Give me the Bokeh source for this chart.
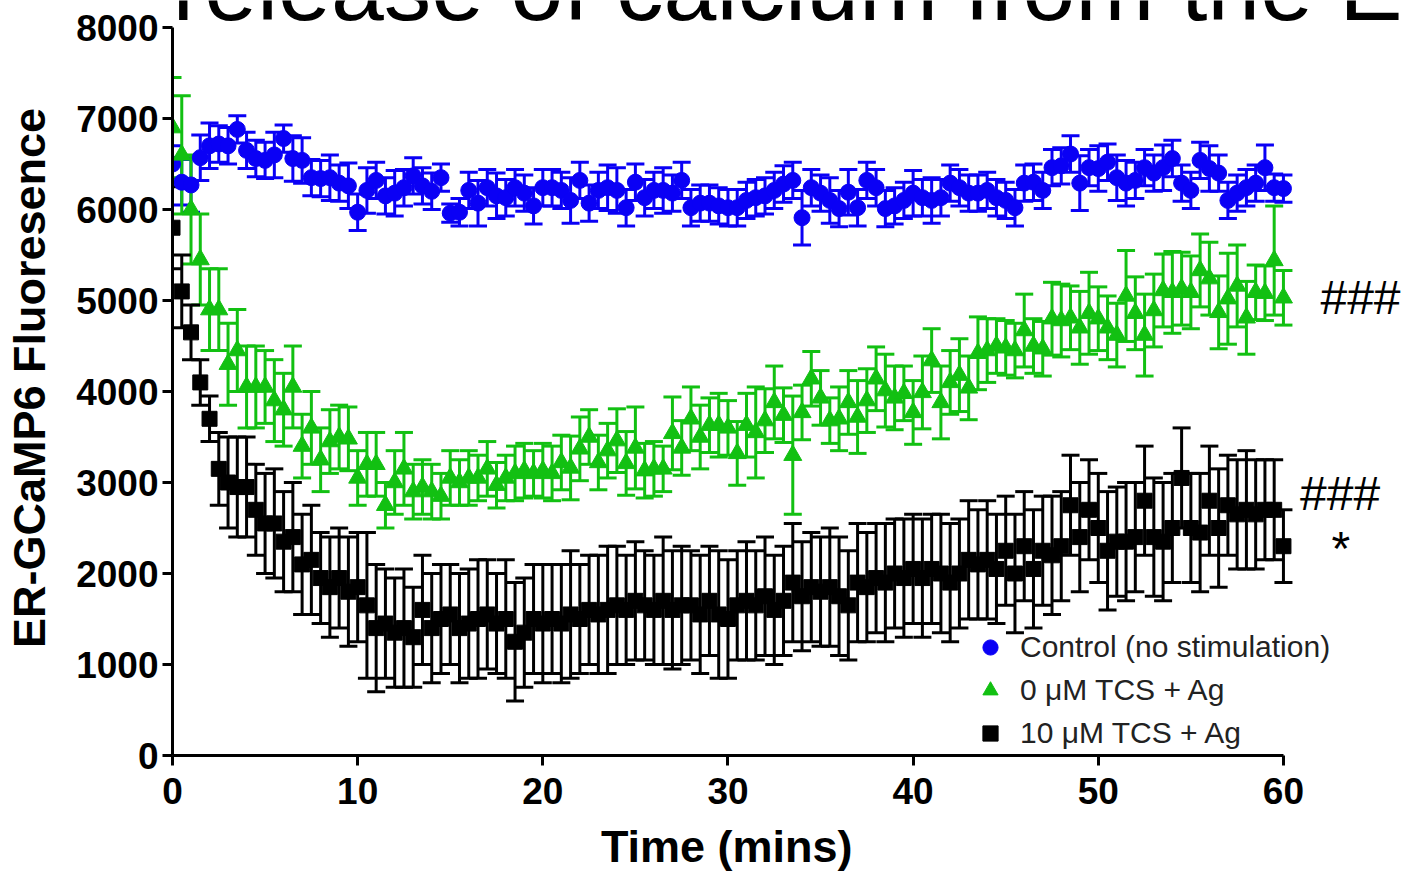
from bokeh.plotting import figure
from bokeh.models import (ColumnDataSource, Whisker, TeeHead, Label, Legend, LegendItem,
                          Range1d, FixedTicker)
from bokeh.embed import file_html
from bokeh.resources import INLINE

# ---------------- data ----------------
time_min = [
    0, 0.5, 1, 1.5, 2, 2.5, 3, 3.5, 4, 4.5,
    5, 5.5, 6, 6.5, 7, 7.5, 8, 8.5, 9, 9.5,
    10, 10.5, 11, 11.5, 12, 12.5, 13, 13.5, 14, 14.5,
    15, 15.5, 16, 16.5, 17, 17.5, 18, 18.5, 19, 19.5,
    20, 20.5, 21, 21.5, 22, 22.5, 23, 23.5, 24, 24.5,
    25, 25.5, 26, 26.5, 27, 27.5, 28, 28.5, 29, 29.5,
    30, 30.5, 31, 31.5, 32, 32.5, 33, 33.5, 34, 34.5,
    35, 35.5, 36, 36.5, 37, 37.5, 38, 38.5, 39, 39.5,
    40, 40.5, 41, 41.5, 42, 42.5, 43, 43.5, 44, 44.5,
    45, 45.5, 46, 46.5, 47, 47.5, 48, 48.5, 49, 49.5,
    50, 50.5, 51, 51.5, 52, 52.5, 53, 53.5, 54, 54.5,
    55, 55.5, 56, 56.5, 57, 57.5, 58, 58.5, 59, 59.5,
    60,
]

control_mean = [
    6500, 6300, 6270, 6570, 6700, 6720, 6700, 6880, 6650, 6560,
    6540, 6600, 6780, 6560, 6540, 6350, 6340, 6350, 6290, 6260,
    5970, 6210, 6320, 6150, 6180, 6240, 6370, 6260, 6200, 6350,
    5960, 5970, 6210, 6070, 6240, 6150, 6130, 6240, 6180, 6040,
    6240, 6240, 6210, 6100, 6320, 6070, 6210, 6240, 6210, 6020,
    6300, 6130, 6210, 6210, 6180, 6320, 6020, 6070, 6070, 6040,
    6020, 6020, 6100, 6130, 6150, 6210, 6280, 6320, 5910, 6240,
    6180, 6100, 6010, 6190, 6020, 6320, 6240, 6010, 6040, 6100,
    6180, 6130, 6100, 6130, 6290, 6240, 6180, 6180, 6210, 6130,
    6100, 6020, 6290, 6300, 6210, 6460, 6480, 6610, 6290, 6460,
    6450, 6520, 6350, 6290, 6320, 6460, 6400, 6460, 6560, 6290,
    6210, 6540, 6450, 6400, 6100, 6180, 6240, 6290, 6460, 6240,
    6230,
]
control_sem = [
    200, 250, 300, 250, 250, 200, 200, 150, 200, 200,
    200, 250, 150, 250, 250, 200, 200, 250, 200, 250,
    200, 250, 200, 200, 250, 200, 200, 200, 200, 150,
    100, 150, 200, 250, 200, 250, 200, 200, 200, 200,
    200, 200, 200, 250, 200, 200, 200, 250, 250, 200,
    200, 200, 200, 250, 200, 200, 200, 200, 200, 200,
    200, 200, 200, 200, 200, 200, 200, 200, 300, 200,
    200, 250, 200, 250, 200, 200, 200, 200, 200, 200,
    250, 200, 250, 200, 200, 200, 200, 200, 200, 200,
    200, 200, 200, 200, 200, 200, 200, 200, 300, 200,
    250, 200, 250, 250, 200, 200, 200, 250, 200, 200,
    200, 200, 250, 200, 200, 200, 200, 200, 250, 150,
    150,
]

tcs0_mean = [
    6900, 6600, 6000, 5450, 4900, 4900, 4300, 4450, 4050, 4050,
    4050, 3900, 3800, 4050, 3400, 3600, 3250, 3450, 3500, 3480,
    3050, 3200, 3200, 2750, 3000, 3150, 2900, 2950, 2900, 2850,
    3050, 3000, 3050, 3050, 3150, 2970, 3050, 3100, 3130, 3100,
    3130, 3100, 3220, 3160, 3370, 3500, 3220, 3350, 3460, 3210,
    3380, 3130, 3150, 3150, 3540, 3380, 3700, 3500, 3630, 3630,
    3600, 3320, 3630, 3550, 3680, 3880, 3740, 3300, 3770, 4140,
    3930, 3680, 3700, 3880, 3720, 3900, 4140, 4010, 3930, 3980,
    3770, 3990, 4340, 3880, 4100, 4180, 4040, 4420, 4450, 4500,
    4480, 4450, 4670, 4500, 4470, 4800, 4780, 4810, 4700, 4860,
    4800, 4700, 4620, 5050, 4860, 4620, 4890, 5110, 5090, 5130,
    5090, 5330, 5240, 4870, 5020, 5160, 4810, 5090, 5080, 5440,
    5030,
]
tcs0_sem = [
    550, 650, 600, 500, 450, 450, 450, 450, 450, 450,
    400, 450, 400, 450, 350, 400, 350, 350, 350, 350,
    300, 350, 350, 250, 350, 400, 300, 300, 300, 250,
    300, 250, 300, 250, 300, 250, 250, 300, 300, 250,
    300, 300, 300, 350, 350, 300, 300, 300, 350, 350,
    450, 300, 300, 250, 400, 300, 350, 350, 300, 350,
    300, 350, 350, 500, 350, 400, 300, 650, 300, 300,
    300, 250, 350, 350, 400, 350, 350, 400, 350, 300,
    350, 400, 350, 400, 350, 400, 350, 400, 350, 300,
    300, 300, 400, 300, 300, 400, 400, 350, 400, 450,
    350, 350, 350, 500, 400, 450, 400, 400, 450, 400,
    400, 400, 400, 400, 500, 450, 400, 300, 300, 600,
    300,
]

tcs10_mean = [
    5800, 5100, 4650, 4100, 3700, 3150, 3000, 2950, 2950, 2700,
    2550, 2550, 2350, 2400, 2100, 2150, 1950, 1850, 1950, 1800,
    1850, 1650, 1400, 1450, 1350, 1400, 1300, 1600, 1400, 1500,
    1550, 1400, 1450, 1500, 1550, 1450, 1500, 1250, 1350, 1500,
    1450, 1500, 1450, 1550, 1500, 1600, 1550, 1600, 1650, 1600,
    1700, 1650, 1600, 1700, 1600, 1650, 1650, 1550, 1700, 1550,
    1500, 1650, 1700, 1650, 1750, 1600, 1700, 1900, 1750, 1850,
    1800, 1850, 1750, 1650, 1900, 1850, 1950, 1900, 2000, 1950,
    2050, 1950, 2050, 2000, 1900, 2000, 2150, 2100, 2150, 2050,
    2250, 2000, 2300, 2050, 2250, 2200, 2300, 2750, 2400, 2700,
    2500, 2250, 2350, 2350, 2400, 2800, 2400, 2350, 2500, 3050,
    2500, 2450, 2800, 2500, 2750, 2650, 2700, 2650, 2700, 2700,
    2300,
]
tcs10_sem = [
    450, 400, 300, 250, 250, 400, 500, 550, 550, 500,
    550, 600, 550, 600, 550, 600, 500, 550, 550, 600,
    600, 800, 700, 600, 600, 650, 550, 600, 600, 600,
    550, 600, 600, 650, 600, 550, 650, 650, 600, 600,
    650, 600, 650, 700, 600, 600, 650, 700, 650, 600,
    650, 600, 600, 700, 650, 650, 600, 650, 600, 700,
    650, 600, 650, 600, 650, 600, 600, 650, 600, 600,
    600, 650, 650, 600, 650, 600, 600, 650, 600, 650,
    600, 650, 600, 650, 650, 600, 650, 600, 650, 600,
    600, 650, 600, 650, 600, 650, 600, 550, 600, 550,
    600, 650, 600, 650, 600, 600, 650, 650, 600, 550,
    600, 650, 600, 650, 550, 600, 650, 600, 550, 550,
    400,
]

series_names = ["Control (no stimulation)", "0 \u03bcM TCS + Ag", "10 \u03bcM TCS + Ag"]
x_ticks = [0, 10, 20, 30, 40, 50, 60]
y_ticks = [0, 1000, 2000, 3000, 4000, 5000, 6000, 7000, 8000]
title_text = "release of calcium from the E"
x_title = "Time (mins)"
y_title = "ER-GCaMP6 Fluoresence"
sig_top = "###"
sig_mid = "###"
sig_star = "*"

# ---------------- figure ----------------
FONT = "Liberation Sans"
BLUE = "#0a00f5"
GREEN = "#12c012"
BLACK = "#000000"

p = figure(width=1402, height=875, output_backend="svg", toolbar_location=None,
           x_range=Range1d(0, 66.43), y_range=Range1d(0, 8297),
           min_border_left=172, min_border_right=0, min_border_top=0,
           min_border_bottom=120)
p.outline_line_color = None
p.xgrid.visible = False
p.ygrid.visible = False
p.background_fill_color = "white"
p.border_fill_color = "white"

for ax in (p.xaxis[0], p.yaxis[0]):
    ax.axis_line_width = 3
    ax.major_tick_line_width = 3
    ax.major_tick_out = 10
    ax.major_tick_in = 0
    ax.minor_tick_line_color = None
    ax.major_label_text_font = FONT
    ax.major_label_text_font_style = "bold"
    ax.major_label_text_font_size = "37px"
    ax.major_label_text_color = "black"
    ax.axis_label_text_font = FONT
    ax.axis_label_text_font_style = "bold"
    ax.axis_label_text_font_size = "45px"
    ax.axis_label_text_color = "black"

p.xaxis[0].bounds = (0, 60)
p.yaxis[0].bounds = (0, 8000)
p.xaxis[0].ticker = FixedTicker(ticks=x_ticks)
p.yaxis[0].ticker = FixedTicker(ticks=y_ticks)
p.xaxis[0].major_label_standoff = 12
p.yaxis[0].major_label_standoff = 4
# the frame runs past 60 min (room for the ### marks); non-breaking padding
# keeps the x title centred under the 0-60 axis line
p.xaxis[0].axis_label = x_title + "\u00a0" * 9 + "\u2009"
p.yaxis[0].axis_label = y_title
p.xaxis[0].axis_label_standoff = 14
p.yaxis[0].axis_label_standoff = 18


def add_series(mean, sem, color, marker, size):
    src = ColumnDataSource(dict(
        t=time_min, y=mean,
        hi=[m + s for m, s in zip(mean, sem)],
        lo=[m - s for m, s in zip(mean, sem)]))
    w = Whisker(source=src, base="t", upper="hi", lower="lo", dimension="height",
                line_color=color, line_width=3,
                upper_head=TeeHead(size=18, line_color=color, line_width=3),
                lower_head=TeeHead(size=18, line_color=color, line_width=3))
    p.add_layout(w)
    r = p.scatter("t", "y", source=src, marker=marker, size=size,
                  fill_color=color, line_color=color, line_width=1)
    return r


r_blue = add_series(control_mean, control_sem, BLUE, "circle", 16)
r_green = add_series(tcs0_mean, tcs0_sem, GREEN, "triangle", 18)
r_black = add_series(tcs10_mean, tcs10_sem, BLACK, "square", 15)

legend = Legend(items=[LegendItem(label=series_names[0], renderers=[r_blue]),
                       LegendItem(label=series_names[1], renderers=[r_green]),
                       LegendItem(label=series_names[2], renderers=[r_black])],
                location=(799, 3), orientation="vertical",
                label_text_font=FONT, label_text_font_size="30px",
                label_text_color="#222222",
                glyph_width=38, glyph_height=38, label_height=33,
                label_standoff=11, spacing=5, padding=0, margin=0,
                border_line_color=None, background_fill_alpha=0)
p.add_layout(legend, "center")

p.add_layout(Label(x=0.0, y=8440, text=title_text, text_font=FONT,
                   text_font_size="95px", text_color="black",
                   text_baseline="middle", text_align="left"))
p.add_layout(Label(x=62.0, y=5033, text=sig_top, text_font=FONT,
                   text_font_size="48px", text_color="black",
                   text_baseline="middle", text_align="left"))
p.add_layout(Label(x=60.9, y=2879, text=sig_mid, text_font=FONT,
                   text_font_size="48px", text_color="black",
                   text_baseline="middle", text_align="left"))
p.add_layout(Label(x=62.6, y=2275, text=sig_star, text_font=FONT,
                   text_font_size="48px", text_color="black",
                   text_baseline="middle", text_align="left"))

open("out.html", "w").write(file_html(p, INLINE))
